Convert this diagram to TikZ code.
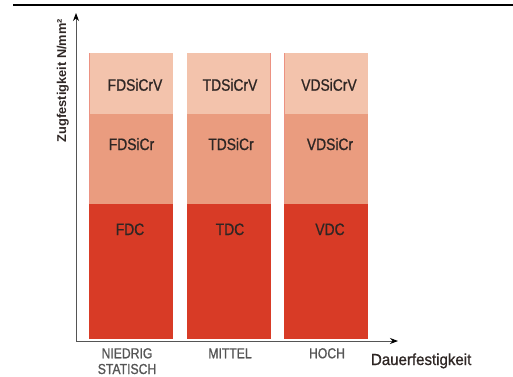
\documentclass[tikz,border=0pt]{standalone}
\usepackage{fontspec}
\setmainfont{Liberation Sans}
\newfontfamily\cond[FakeStretch=0.84,FakeBold=0.9]{Liberation Sans}
\newfontfamily\medf[FakeStretch=0.94,FakeBold=0.9]{Liberation Sans}
\usetikzlibrary{arrows.meta}
\definecolor{ctop}{HTML}{F3C3AC}
\definecolor{cmid}{HTML}{EA9C7F}
\definecolor{cbot}{HTML}{D83B26}
\definecolor{cedge}{HTML}{EC9282}
\definecolor{ctext}{HTML}{2E2624}
\definecolor{caxis}{HTML}{555555}
\begin{document}
\begin{tikzpicture}[x=1pt,y=-1pt,
  every node/.style={inner sep=0pt,outer sep=0pt},
  seg/.style={rectangle,minimum width=84pt,anchor=north west,draw=none},
  barlabel/.style={anchor=base,text=ctext,font=\cond\fontsize{16.5}{18}\selectfont},
  catlabel/.style={anchor=base,text=caxis,font=\cond\fontsize{14.5}{16}\selectfont},
  axisline/.style={draw=caxis,line width=0.9pt,-{Stealth[length=8pt,width=6pt,color=black]}}]
\useasboundingbox (0,0) rectangle (513,376);
\draw[line width=1.1pt] (13,5) -- (513,5);
% bars
\foreach \n/\x in {1/89,2/187,3/284}{
  \node[seg,fill=ctop,minimum height=61pt] (t\n) at (\x,53) {};
  \node[seg,fill=cmid,minimum height=90pt] (m\n) at (\x,114) {};
  \node[seg,fill=cbot,minimum height=135pt] (b\n) at (\x,204) {};
}
\draw[cedge,line width=0.8pt] (89.4,53) -- (89.4,204);
\draw[cedge,line width=0.8pt] (270.6,53) -- (270.6,204);
\draw[cedge,line width=0.8pt] (284.4,53) -- (284.4,204);
% labels
\node[barlabel] (l1t) at (135,90.7) {FDSiCrV};
\node[barlabel] (l1m) at (131.5,150) {FDSiCr};
\node[barlabel] (l1b) at (130,235) {FDC};
\node[barlabel] (l2t) at (230,90.7) {TDSiCrV};
\node[barlabel] (l2m) at (231,150) {TDSiCr};
\node[barlabel] (l2b) at (230,235) {TDC};
\node[barlabel] (l3t) at (329,90.7) {VDSiCrV};
\node[barlabel] (l3m) at (330,150) {VDSiCr};
\node[barlabel] (l3b) at (330,235) {VDC};
% axes
\coordinate (o) at (76,341);
\coordinate (ytip) at (76,13);
\coordinate (xtip) at (398,341);
\draw[axisline] (o) -- (ytip);
\draw[axisline] (o) -- (xtip);
\node[catlabel] (c1) at (127,358.3) {NIEDRIG};
\node[catlabel] (c1b) at (127,374) {STATISCH};
\node[catlabel] (c2) at (230,358.3) {MITTEL};
\node[catlabel] (c3) at (327,358.3) {HOCH};
\node[anchor=base west,text=ctext,font=\medf\fontsize{16}{18}\selectfont] (xl) at (371,365) {Dauerfestigkeit};
\node[rotate=90,anchor=base,text=ctext,font=\bfseries\fontsize{12.8}{14}\selectfont] (yl) at (66,80.5) {Zugfestigkeit N/mm²};
\end{tikzpicture}
\end{document}
